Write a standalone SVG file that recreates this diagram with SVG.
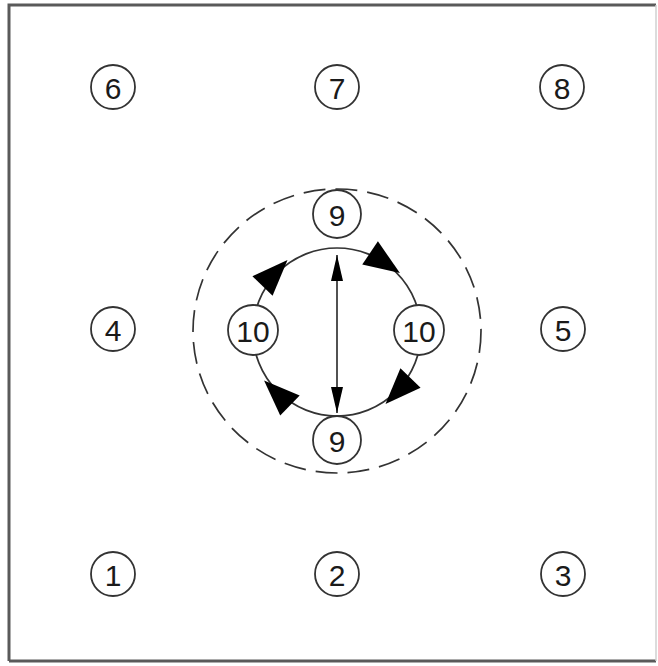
<svg xmlns="http://www.w3.org/2000/svg" xmlns:xlink="http://www.w3.org/1999/xlink" width="658" height="666" viewBox="0 0 658 666">
<style>
.node circle{fill:#fff;stroke:#333;stroke-width:1.8}
.node text{font-family:"Liberation Sans",Arial,sans-serif;font-size:30px;fill:#1a1a1a;text-anchor:middle;dominant-baseline:central}
.frame{stroke:#5a5a5a;stroke-width:3;fill:none}
</style>
<defs>
<polygon id="head" points="-18,-14 18,0 -18,14" fill="#000"/>
<marker id="ah" viewBox="0 0 26 12" refX="26" refY="6" markerWidth="26" markerHeight="12" markerUnits="userSpaceOnUse" orient="auto-start-reverse">
<path d="M0,0 L26,6 L0,12 Z" fill="#000"/>
</marker>
</defs>
<rect width="658" height="666" fill="#fff"/>
<path class="frame" d="M9,661 L9,5 L656,5"/>
<path class="frame" d="M9,661 L656,661"/>
<line x1="656" y1="5" x2="656" y2="661" stroke="#d0d0d0" stroke-width="1.5"/>
<g id="connectors">
<ellipse cx="337" cy="331" rx="144" ry="142" fill="none" stroke="#333" stroke-width="1.7" stroke-dasharray="22 10"/>
<circle cx="337" cy="332" r="84" fill="none" stroke="#333" stroke-width="1.7"/>
<line x1="337" y1="255" x2="337" y2="413" stroke="#333" stroke-width="1.7" marker-start="url(#ah)" marker-end="url(#ah)"/>
<use xlink:href="#head" transform="translate(385,263) rotate(34)"/>
<use xlink:href="#head" transform="translate(398,391) rotate(134)"/>
<use xlink:href="#head" transform="translate(277,393) rotate(224)"/>
<use xlink:href="#head" transform="translate(275,273) rotate(314)"/>
</g>
<g id="n6" class="node"><circle cx="113" cy="87" r="22"/><text x="113" y="88">6</text></g>
<g id="n7" class="node"><circle cx="337" cy="87" r="22"/><text x="337" y="88">7</text></g>
<g id="n8" class="node"><circle cx="562" cy="87" r="22"/><text x="562" y="88">8</text></g>
<g id="n4" class="node"><circle cx="113" cy="329" r="22"/><text x="113" y="330">4</text></g>
<g id="n5" class="node"><circle cx="563" cy="329" r="22"/><text x="563" y="330">5</text></g>
<g id="n1" class="node"><circle cx="113" cy="574" r="22"/><text x="113" y="575">1</text></g>
<g id="n2" class="node"><circle cx="337" cy="574" r="22"/><text x="337" y="575">2</text></g>
<g id="n3" class="node"><circle cx="563" cy="574" r="22"/><text x="563" y="575">3</text></g>
<g id="n9a" class="node"><circle cx="337" cy="214" r="24"/><text x="337" y="215">9</text></g>
<g id="n9b" class="node"><circle cx="337" cy="440" r="24"/><text x="337" y="441">9</text></g>
<g id="n10a" class="node"><circle cx="253" cy="330" r="25"/><text x="253" y="331">10</text></g>
<g id="n10b" class="node"><circle cx="419" cy="330" r="25"/><text x="419" y="331">10</text></g>
</svg>
